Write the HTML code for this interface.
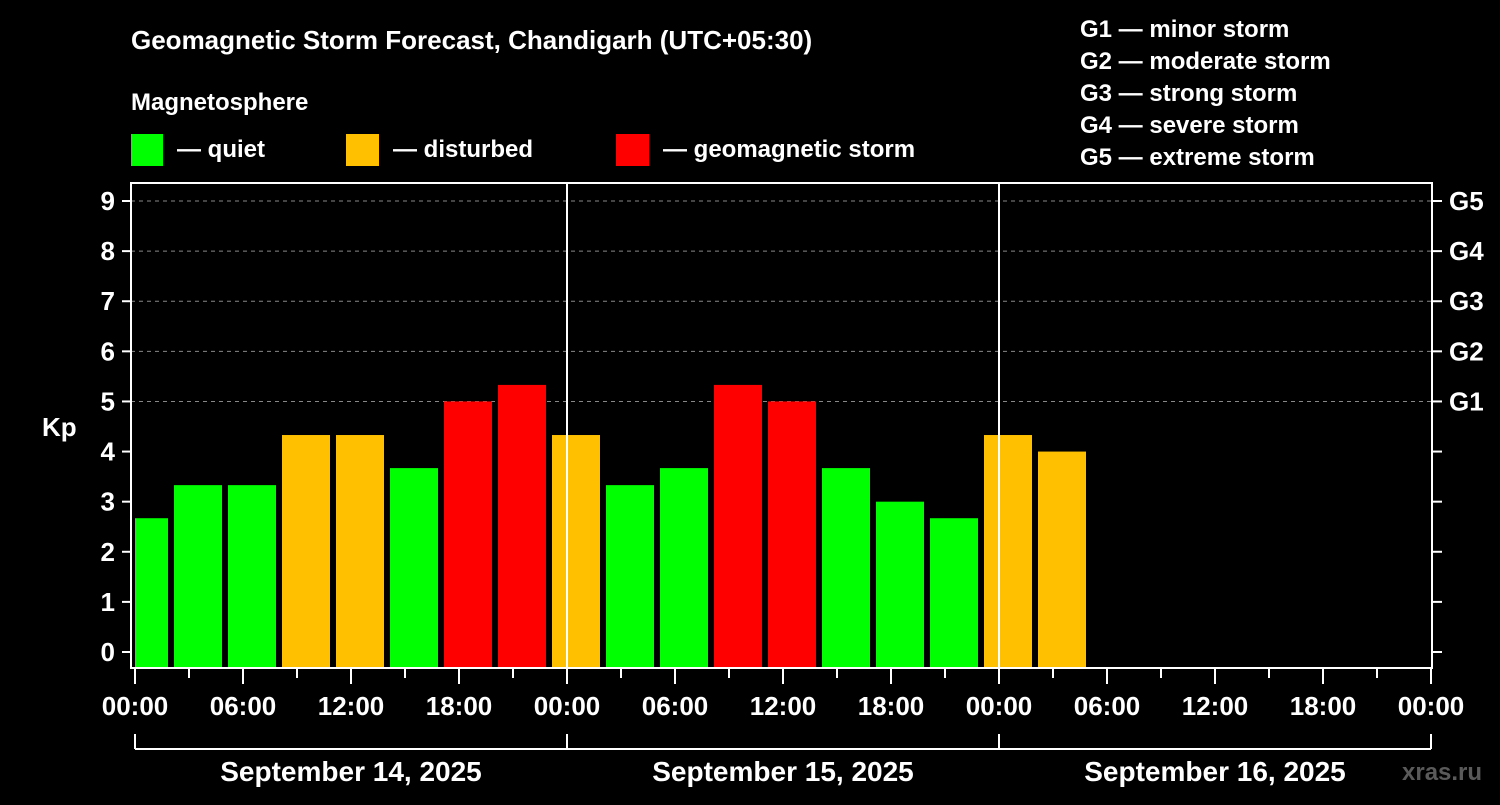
<!DOCTYPE html>
<html><head><meta charset="utf-8"><style>
body{margin:0;background:#000;width:1500px;height:800px;overflow:hidden}
svg text{font-family:"Liberation Sans",Arial,sans-serif;font-weight:bold;fill:#fff}
</style></head><body>
<svg id="chart" width="1500" height="800" xmlns="http://www.w3.org/2000/svg">
<rect width="1500" height="800" fill="#000"/>
<text x="131" y="49" font-size="26">Geomagnetic Storm Forecast, Chandigarh (UTC+05:30)</text>
<text x="131" y="110" font-size="24">Magnetosphere</text>
<g><rect x="131" y="134" width="32" height="32" fill="#00ff00"/><text x="177" y="157" font-size="24">— quiet</text></g>
<g><rect x="346" y="134" width="33" height="32" fill="#ffc000"/><text x="393" y="157" font-size="24">— disturbed</text></g>
<g><rect x="616" y="134" width="33" height="32" fill="#ff0000"/><text x="663" y="157" font-size="24">— geomagnetic storm</text></g>
<g font-size="24">
<text x="1080" y="37">G1 — minor storm</text>
<text x="1080" y="69">G2 — moderate storm</text>
<text x="1080" y="101">G3 — strong storm</text>
<text x="1080" y="133">G4 — severe storm</text>
<text x="1080" y="165">G5 — extreme storm</text>
</g>
<text x="42" y="436" font-size="26">Kp</text>
<g id="grid"></g><g id="bars"></g><g id="axes"></g>
<text x="1402" y="780" font-size="24" fill="#555" style="fill:#5a5a5a">xras.ru</text>
</svg>
<script>
const kpValues=[2.67,3.33,3.33,4.33,4.33,3.67,5,5.33,4.33,3.33,3.67,5.33,5,3.67,3,2.67,4.33,4];
const kpTicks=[0,1,2,3,4,5,6,7,8,9];
const gLabels=["G1","G2","G3","G4","G5"];
const hourLabels=["00:00","06:00","12:00","18:00"];
const dayLabels=["September 14, 2025","September 15, 2025","September 16, 2025"];
const NS="http://www.w3.org/2000/svg";
const X0=135,DAY=432,L=131,R=1432,T=183,B=668;
const y=v=>652-v*50.11;
const xh=h=>X0+h*DAY/24;
function mk(p,tag,a){const e=document.createElementNS(NS,tag);for(const k in a)e.setAttribute(k,a[k]);p.appendChild(e);return e;}
const grid=document.getElementById('grid'),bars=document.getElementById('bars'),axes=document.getElementById('axes');
kpTicks.forEach(v=>{if(v>=5){const l=mk(grid,'line',{x1:L,x2:R,y1:y(v),y2:y(v),stroke:'#888','stroke-dasharray':'4,4','stroke-width':1});

}});
const col=v=>v>=5?'#ff0000':(v>=4?'#ffc000':'#00ff00');
kpValues.forEach((v,i)=>{const end=xh(1.8333+3*i);let start=xh(1.8333+3*(i-1))+6;if(start<X0)start=X0;
const r=mk(bars,'rect',{x:start,y:y(v),width:end-start,height:B-1-y(v),fill:col(v)});

});
[1,2].forEach(d=>{const l=mk(axes,'line',{x1:xh(24*d),x2:xh(24*d),y1:T,y2:B,stroke:'#fff','stroke-width':2});

});
const fr=mk(axes,'rect',{x:L,y:T,width:R-L,height:B-T,fill:'none',stroke:'#fff','stroke-width':2});


kpTicks.forEach(v=>{mk(axes,'line',{x1:122,x2:L,y1:y(v),y2:y(v),stroke:'#fff','stroke-width':2});
mk(axes,'line',{x1:R,x2:R+10,y1:y(v),y2:y(v),stroke:'#fff','stroke-width':2});
const t=mk(axes,'text',{x:115,y:y(v)+9,'font-size':26,'text-anchor':'end'});t.textContent=v;

});
gLabels.forEach((g,i)=>{const t=mk(axes,'text',{x:1449,y:y(5+i)+9,'font-size':26});t.textContent=g;

});
for(let k=0;k<=24;k++){const x=xh(3*k);const major=k%2==0;
mk(axes,'line',{x1:x,x2:x,y1:B,y2:B+(major?16:10),stroke:'#fff','stroke-width':2});
if(major){const t=mk(axes,'text',{x:x,y:715,'font-size':26,'text-anchor':'middle'});t.textContent=hourLabels[(k/2)%4];

}}
mk(axes,'line',{x1:X0,x2:xh(72),y1:749,y2:749,stroke:'#fff','stroke-width':2});
for(let d=0;d<=3;d++)mk(axes,'line',{x1:xh(24*d),x2:xh(24*d),y1:734,y2:749,stroke:'#fff','stroke-width':2});
dayLabels.forEach((s,d)=>{const t=mk(axes,'text',{x:xh(24*d+12),y:781,'font-size':28,'text-anchor':'middle'});t.textContent=s;

});
</script>
</body></html>
